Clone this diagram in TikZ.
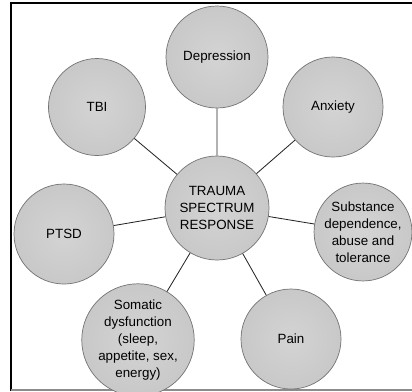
\documentclass[tikz,border=0pt]{standalone}
\usepackage{fontspec}
\setmainfont{Liberation Sans}
\usepackage{tikz}
\usetikzlibrary{positioning,calc}

\pgfdeclareradialshading{speckle}{\pgfpoint{0bp}{0bp}}{%
  color(0bp)=(black!17); color(28bp)=(black!22); color(44bp)=(black!30);
  color(50bp)=(black!38); color(100bp)=(black!38)}

\tikzset{
  blob/.style={draw=black!55,line width=0.5pt,shape=circle,shading=speckle,
    minimum size=100*0.025cm,inner sep=0pt,align=center,
    font=\fontsize{9.5}{12}\selectfont},
  link/.style={draw=black!85,line width=0.6pt}
}

\begin{document}
\begin{tikzpicture}[x=0.025cm,y=-0.025cm]
  \useasboundingbox (0,0) rectangle (412,391);
  % frame round the figure
  \draw[line width=0.8pt] (11,391) -- (11,3) -- (412,3);
  \draw[black!45,line width=0.8pt] (11,390) -- (412,390);
  % the centre circle
  \path (217,208) node[blob,minimum size=104*0.025cm] (trauma) {TRAUMA\\SPECTRUM\\RESPONSE};
  % the circles round it
  \path (217,57) node[blob,minimum size=102*0.025cm] (dep) {Depression};
  \path (333,107) node[blob] (anx) {Anxiety};
  \path (97,107) node[blob,minimum size=97*0.025cm] (tbi) {TBI};
  \path (64,234) node[blob] (ptsd) {PTSD};
  \path (363,232) node[blob,minimum size=95*0.025cm] (subst) {Substance\\dependence,\\abuse and\\tolerance};
  \path (138,340) node[blob,minimum size=97*0.025cm] (somat) {Somatic\\dysfunction\\(sleep,\\appetite, sex,\\energy)};
  \path (291,339) node[blob] (pain) {Pain};
  % the spokes
  \draw[link] (trauma) -- (dep) (trauma) -- (anx) (trauma) -- (tbi) (trauma) -- (ptsd)
    (trauma) -- (subst) (trauma) -- (somat) (trauma) -- (pain);
\end{tikzpicture}
\end{document}
